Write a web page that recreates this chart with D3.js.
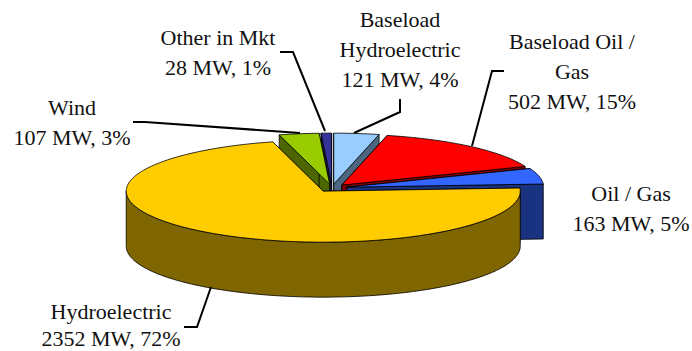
<!DOCTYPE html>
<html>
<head>
<meta charset="utf-8">
<style>
  html, body { margin: 0; background: #fff; }
  text { font-family: "Liberation Serif", serif; font-size: 22px; fill: #111; text-anchor: middle; }
</style>
<script src="https://cdn.jsdelivr.net/npm/d3@7/dist/d3.min.js"></script>
</head>
<body>
<script>
// Installed capacity by resource type, clockwise from the top of the pie.
const categories = ["Baseload Hydroelectric", "Baseload Oil / Gas", "Oil / Gas", "Hydroelectric", "Wind", "Other in Mkt"];
const megawatts = [121, 502, 163, 2352, 107, 28];
const topColors = ["#99CCFF", "#FF0000", "#3366FF", "#FFCC00", "#99CC00", "#333399"];
const wallColors = ["#4D6680", "#800000", "#1A3380", "#7F6600", "#4D6600", "#1A1A4D"];
// Back slices are painted first so the nearer ones overlap them.
const paintOrder = [5, 4, 0, 1, 2, 3];

// Label text, its anchor and leader line for each category.
const labelLines = [
  ["Baseload", "Hydroelectric", "121 MW, 4%"],
  ["Baseload Oil /", "Gas", "502 MW, 15%"],
  ["Oil / Gas", "163 MW, 5%"],
  ["Hydroelectric", "2352 MW, 72%"],
  ["Wind", "107 MW, 3%"],
  ["Other in Mkt", "28 MW, 1%"]
];
const labelBaselines = [
  [27, 57, 87],
  [49, 79, 109],
  [201, 231],
  [319, 346],
  [115, 145],
  [45, 75]
];
const labelCenters = [400, 572, 631, 111, 72, 218];
const leaders = [
  [[400, 99], [400, 112], [354, 133]],
  [[504, 71], [492, 71], [472, 146]],
  [],
  [[184, 327], [197, 327], [211, 287]],
  [[133, 122], [145, 122], [300, 133]],
  [[280, 52], [293, 52], [325, 131]]
];

const width = 692, height = 351;
const tilt = { rx: 197, ry: 51, depth: 55, explode: 15 };
const toRad = d => d * Math.PI / 180;

// Flat pie coordinates (unit circle) projected onto the tilted page plane.
const px = d3.scaleLinear().domain([-1, 1]).range([332 - tilt.rx, 332 + tilt.rx]);
const py = d3.scaleLinear().domain([-1, 1]).range([188 - tilt.ry, 188 + tilt.ry]);

const svg = d3.select("body").append("svg")
  .attr("width", width).attr("height", height)
  .style("display", "block");

const slices = d3.pie().sort(null)(megawatts);

const line = d3.line();

function sliceGeometry(s) {
  const mid = (s.startAngle + s.endAngle) / 2;
  const k = tilt.explode / tilt.rx;
  const ox = Math.sin(mid) * k, oy = -Math.cos(mid) * k;
  const point = (a, r) => [px(ox + r * Math.sin(a)), py(oy - r * Math.cos(a))];
  const down = p => [p[0], p[1] + tilt.depth];
  const apex = point(0, 0);
  const arcPoints = (from, to) => {
    const n = Math.max(2, Math.ceil((to - from) / toRad(1.5)));
    return d3.range(n + 1).map(i => point(from + (to - from) * i / n, 1));
  };
  return { apex, point, down, arcPoints };
}

const faces = svg.append("g")
  .attr("stroke", "#000").attr("stroke-width", 0.8).attr("stroke-linejoin", "round");

paintOrder.forEach(i => {
  const s = slices[i];
  const { apex, point, down, arcPoints } = sliceGeometry(s);
  const startEdge = point(s.startAngle, 1);
  const endEdge = point(s.endAngle, 1);
  const wall = (pts) => faces.append("path").attr("fill", wallColors[i]).attr("d", line(pts) + "Z");

  // Radial walls on both cut edges.
  wall([apex, startEdge, down(startEdge), down(apex)]);
  wall([apex, endEdge, down(endEdge), down(apex)]);

  // Outer rim, only where it faces the viewer.
  const rimFrom = Math.max(s.startAngle, toRad(90));
  const rimTo = Math.min(s.endAngle, toRad(270));
  if (rimTo > rimFrom) {
    const rim = arcPoints(rimFrom, rimTo);
    wall(rim.concat(rim.map(down).reverse()));
  }

  // Top face.
  faces.append("path").attr("fill", topColors[i])
    .attr("d", line([apex].concat(arcPoints(s.startAngle, s.endAngle))) + "Z");
});

// Leader lines from the labels to their slices.
svg.append("g").attr("fill", "none").attr("stroke", "#000").attr("stroke-width", 2)
  .selectAll("path").data(leaders.filter(d => d.length)).join("path")
  .attr("d", d => line(d));

// Category labels.
const labels = svg.append("g");
labelLines.forEach((lines, i) => {
  lines.forEach((t, j) => {
    labels.append("text").attr("x", labelCenters[i]).attr("y", labelBaselines[i][j]).text(t);
  });
});
</script>
</body>
</html>
